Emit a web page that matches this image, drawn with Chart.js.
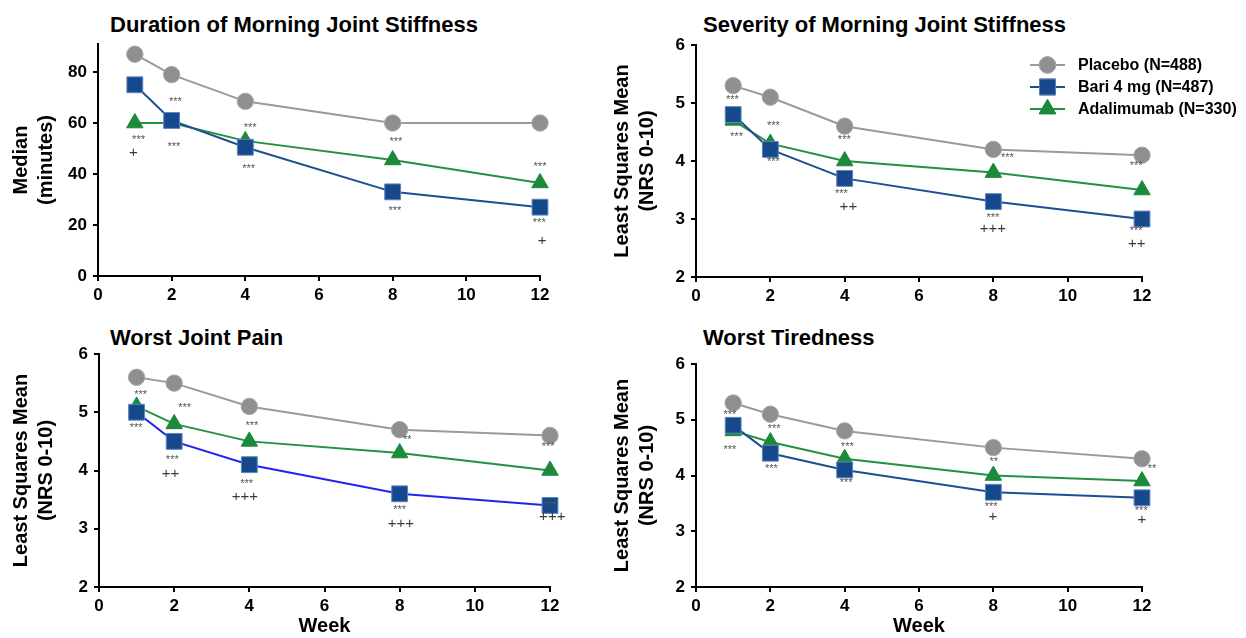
<!DOCTYPE html>
<html>
<head>
<meta charset="utf-8">
<script src="https://cdn.jsdelivr.net/npm/chart.js@4.4.1/dist/chart.umd.min.js"></script>
<style>
  html, body { margin: 0; padding: 0; background: #fff; }
  body { width: 1246px; height: 638px; position: relative; overflow: hidden; font-family: "Liberation Sans", Arial, sans-serif; }
  .box { position: absolute; }
  .ttl { position: absolute; font-weight: bold; font-size: 22px; color: #000; white-space: nowrap; line-height: 22px; }
</style>
</head>
<body>
<div class="ttl" style="left:110px; top:14px;">Duration of Morning Joint Stiffness</div>
<div class="ttl" style="left:703px; top:14px;">Severity of Morning Joint Stiffness</div>
<div class="ttl" style="left:110px; top:327px;">Worst Joint Pain</div>
<div class="ttl" style="left:703px; top:327px;">Worst Tiredness</div>

<div class="box" style="left:0px; top:0px; width:600px; height:310px;"><canvas id="c1"></canvas></div>
<div class="box" style="left:600px; top:0px; width:646px; height:310px;"><canvas id="c2"></canvas></div>
<div class="box" style="left:0px; top:310px; width:600px; height:328px;"><canvas id="c3"></canvas></div>
<div class="box" style="left:600px; top:310px; width:646px; height:328px;"><canvas id="c4"></canvas></div>

<script>
// ---------- DATA ----------
const weeks = [1, 2, 4, 8, 12];
const seriesNames = ['Placebo (N=488)', 'Bari 4 mg (N=487)', 'Adalimumab (N=330)'];
const xTicks = [0, 2, 4, 6, 8, 10, 12];

// Duration of Morning Joint Stiffness (median minutes)
const durPlacebo = [87, 79, 68.5, 60, 60];
const durBari    = [75, 61, 50.5, 33, 27];
const durAda     = [60, 60, 53, 45.5, 36.5];
const durTicks   = [0, 20, 40, 60, 80];
const durNotes = [
  [1.1, 53.3, '***'], [0.96, 48.3, '+'],
  [2.1, 68.1, '***'], [2.06, 50.7, '***'],
  [4.13, 58.2, '***'], [4.09, 42, '***'],
  [8.09, 52.5, '***'], [8.06, 25.5, '***'],
  [12.0, 42.7, '***'], [11.98, 20.8, '***'], [12.06, 13.7, '+']
];

// Severity of Morning Joint Stiffness (LS mean NRS)
const sevPlacebo = [5.3, 5.1, 4.6, 4.2, 4.1];
const sevBari    = [4.8, 4.2, 3.7, 3.3, 3.0];
const sevAda     = [4.7, 4.3, 4.0, 3.8, 3.5];
const nrsTicks   = [2, 3, 4, 5, 6];
const sevNotes = [
  [0.98, 5.05, '***'], [1.09, 4.42, '***'],
  [2.08, 4.6, '***'], [2.08, 3.99, '***'],
  [3.99, 4.37, '***'], [3.91, 3.43, '***'], [4.1, 3.21, '++'],
  [8.38, 4.05, '***'], [7.99, 3.02, '***'], [7.99, 2.83, '+++'],
  [11.84, 3.91, '***'], [11.84, 2.8, '***'], [11.86, 2.57, '++']
];

// Worst Joint Pain
const painPlacebo = [5.6, 5.5, 5.1, 4.7, 4.6];
const painBari    = [5.0, 4.5, 4.1, 3.6, 3.4];
const painAda     = [5.1, 4.8, 4.5, 4.3, 4.0];
const painNotes = [
  [1.11, 5.3, '***'], [0.99, 4.73, '***'],
  [2.28, 5.07, '***'], [1.95, 4.18, '***'], [1.9, 3.95, '++'],
  [4.07, 4.76, '***'], [3.93, 3.77, '***'], [3.88, 3.55, '+++'],
  [8.2, 4.53, '**'], [8.0, 3.32, '***'], [8.03, 3.09, '+++'],
  [11.95, 4.41, '***'], [12.0, 3.39, '***'], [12.06, 3.2, '+++']
];

// Worst Tiredness
const tirPlacebo = [5.3, 5.1, 4.8, 4.5, 4.3];
const tirBari    = [4.9, 4.4, 4.1, 3.7, 3.6];
const tirAda     = [4.8, 4.6, 4.3, 4.0, 3.9];
const tirNotes = [
  [0.91, 5.09, '***'], [0.91, 4.45, '***'],
  [2.1, 4.83, '***'], [2.03, 4.12, '***'],
  [4.07, 4.51, '***'], [4.04, 3.87, '***'],
  [8.01, 4.25, '**'], [7.94, 3.44, '***'], [7.99, 3.25, '+'],
  [12.27, 4.12, '**'], [11.98, 3.37, '***'], [12.0, 3.2, '+']
];

// ---------- STYLE ----------
const FONT = '"Liberation Sans", Arial, sans-serif';
const GRAY = '#9a9a9a', GRAY_FILL = '#8f8f8f';
const BLUE = '#1c4e92', BLUE_FILL = '#15498c', BLUE_EDGE = '#5f84bd';
const BRIGHT_BLUE = '#2323f0';
const GREEN = '#23913f', GREEN_FILL = '#1b8a3a';

function makeDatasets(p, b, a, bariLine) {
  const pts = v => weeks.map((w, i) => ({ x: w, y: v[i] }));
  return [
    { label: seriesNames[1], data: pts(b), borderColor: bariLine || BLUE, backgroundColor: BLUE_FILL,
      pointBorderColor: BLUE_EDGE, pointBorderWidth: 1, pointStyle: 'rect', pointRadius: 11.2, borderWidth: 2, order: 0, clip: false },
    { label: seriesNames[2], data: pts(a), borderColor: GREEN, backgroundColor: GREEN_FILL,
      pointBorderColor: GREEN_FILL, pointBorderWidth: 1, pointStyle: 'triangle', pointRadius: 9.5, borderWidth: 2, order: 1, clip: false },
    { label: seriesNames[0], data: pts(p), borderColor: GRAY, backgroundColor: GRAY_FILL,
      pointBorderColor: '#a8a8a8', pointBorderWidth: 1, pointStyle: 'circle', pointRadius: 8.2, borderWidth: 2, order: 2, clip: false }
  ];
}

const notesPlugin = {
  id: 'notes',
  afterDatasetsDraw(chart) {
    const notes = chart.options.plugins.notes.items || [];
    const { ctx, scales } = chart;
    ctx.save();
    ctx.textAlign = 'center';
    ctx.textBaseline = 'middle';
    notes.forEach(([w, v, t]) => {
      const x = scales.x.getPixelForValue(w);
      const y = scales.y.getPixelForValue(v);
      if (t.indexOf('+') >= 0) {
        ctx.font = '15px ' + FONT; ctx.fillStyle = '#3a3a3a';
      } else {
        ctx.font = '11px ' + FONT; ctx.fillStyle = '#555';
      }
      ctx.fillText(t, x, y);
    });
    ctx.restore();
  }
};

const legendPlugin = {
  id: 'customLegend',
  afterDatasetsDraw(chart) {
    const opt = chart.options.plugins.customLegend;
    if (!opt || !opt.show) return;
    const { ctx } = chart;
    const order = [2, 0, 1];
    ctx.save();
    order.forEach((di, row) => {
      const ds = chart.data.datasets[di];
      const y = opt.y + row * opt.gap;
      ctx.strokeStyle = ds.borderColor;
      ctx.lineWidth = 2;
      ctx.beginPath(); ctx.moveTo(opt.x, y); ctx.lineTo(opt.x + 35, y); ctx.stroke();
      ctx.lineWidth = 1;
      Chart.helpers.drawPoint(ctx, {
        pointStyle: ds.pointStyle, radius: ds.pointRadius, borderWidth: 1, rotation: 0
      }, opt.x + 17.5, y);
      ctx.fillStyle = ds.backgroundColor; ctx.strokeStyle = ds.pointBorderColor;
      ctx.fill(); ctx.stroke();
      ctx.fillStyle = '#000';
      ctx.font = 'bold 16px ' + FONT;
      ctx.textAlign = 'left'; ctx.textBaseline = 'middle';
      ctx.fillText(ds.label, opt.x + 48, y + 1);
    });
    ctx.restore();
  }
};

function makeChart(id, cfg) {
  const el = document.getElementById(id);
  return new Chart(el, {
    type: 'line',
    data: { datasets: makeDatasets(cfg.p, cfg.b, cfg.a, cfg.bariLine) },
    plugins: [notesPlugin, legendPlugin],
    options: {
      responsive: true, maintainAspectRatio: false, animation: false,
      layout: { padding: { top: cfg.padTop, right: cfg.padRight, bottom: 0, left: 0 } },
      plugins: {
        legend: { display: false }, tooltip: { enabled: false },
        notes: { items: cfg.notes },
        customLegend: cfg.legend || { show: false }
      },
      elements: { line: { tension: 0 } },
      scales: {
        x: {
          type: 'linear', min: 0, max: 12,
          afterBuildTicks: s => { s.ticks = xTicks.map(v => ({ value: v })); },
          afterFit: s => { s.height = cfg.xHeight; },
          grid: { display: true, drawOnChartArea: false, drawTicks: true, tickLength: 5, color: '#000', lineWidth: 2 },
          border: { display: true, color: '#000', width: 2 },
          ticks: { color: '#000', font: { family: FONT, size: 17, weight: 'bold' }, padding: 4, maxRotation: 0 },
          title: cfg.week ? { display: true, text: 'Week', color: '#000', font: { family: FONT, size: 20, weight: 'bold' }, padding: { top: 0, bottom: 0 } } : { display: false }
        },
        y: {
          type: 'linear', min: cfg.ymin, max: cfg.ymax,
          afterBuildTicks: s => { s.ticks = cfg.yTicks.map(v => ({ value: v })); },
          afterFit: s => { s.width = cfg.yWidth; },
          grid: { display: true, drawOnChartArea: false, drawTicks: true, tickLength: 5, color: '#000', lineWidth: 2 },
          border: { display: true, color: '#000', width: 2 },
          ticks: { color: '#000', font: { family: FONT, size: 17, weight: 'bold' }, padding: 6 },
          title: { display: true, text: cfg.ytitle, color: '#000', font: { family: FONT, size: 20, weight: 'bold', lineHeight: 1.25 }, padding: { top: cfg.titlePad, bottom: 0 } }
        }
      }
    }
  });
}

makeChart('c1', { p: durPlacebo, b: durBari, a: durAda, notes: durNotes, ymin: 0, ymax: 91, yTicks: durTicks,
  ytitle: ['Median', '(minutes)'], padTop: 44, padRight: 60, xHeight: 34, yWidth: 98, titlePad: 9 });
makeChart('c2', { p: sevPlacebo, b: sevBari, a: sevAda, notes: sevNotes, ymin: 2, ymax: 6, yTicks: nrsTicks,
  ytitle: ['Least Squares Mean', '(NRS 0-10)'], padTop: 45, padRight: 104, xHeight: 33, yWidth: 96, titlePad: 9.5,
  legend: { show: true, x: 430, y: 65, gap: 22 } });
makeChart('c3', { p: painPlacebo, b: painBari, a: painAda, notes: painNotes, ymin: 2, ymax: 6, yTicks: nrsTicks,
  ytitle: ['Least Squares Mean', '(NRS 0-10)'], padTop: 44, padRight: 50, xHeight: 51, yWidth: 99, titlePad: 9, week: true,
  bariLine: BRIGHT_BLUE });
makeChart('c4', { p: tirPlacebo, b: tirBari, a: tirAda, notes: tirNotes, ymin: 2, ymax: 6, yTicks: nrsTicks,
  ytitle: ['Least Squares Mean', '(NRS 0-10)'], padTop: 54, padRight: 104, xHeight: 51, yWidth: 96, titlePad: 9.5, week: true });
</script>
</body>
</html>
